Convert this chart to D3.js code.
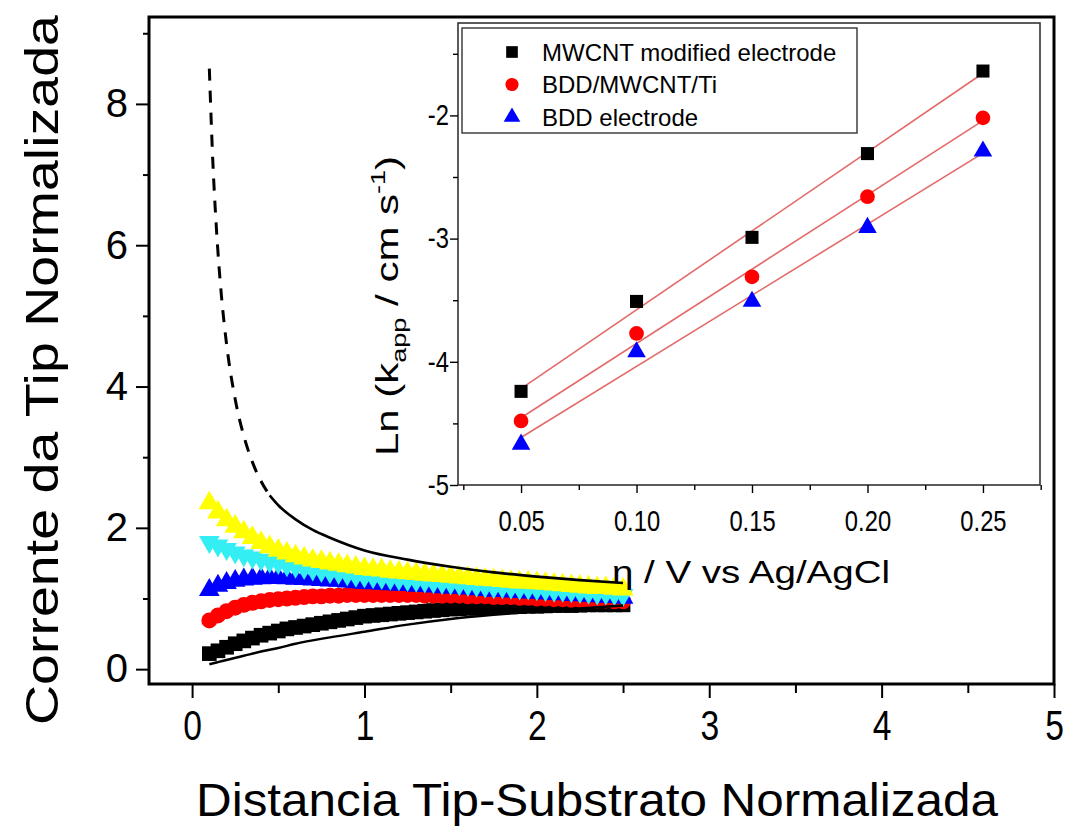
<!DOCTYPE html>
<html>
<head>
<meta charset="utf-8">
<script src="https://cdn.jsdelivr.net/npm/d3@7"></script>
<style>
  body { margin: 0; background: #fff; }
  svg { display: block; }
  text { font-family: "Liberation Sans", Arial, sans-serif; fill: #000; }
</style>
</head>
<body>
<svg id="chart" width="1069" height="827"></svg>
<script>
// ---- Approach curves: normalized tip current vs normalized tip-substrate distance ----
const distance = [0.10,0.15,0.20,0.25,0.30,0.35,0.40,0.45,0.50,0.55,0.60,0.65,0.70,0.75,0.80,0.85,0.90,0.95,1.00,1.05,1.10,1.15,1.20,1.25,1.30,1.35,1.40,1.45,1.50,1.55,1.60,1.65,1.70,1.75,1.80,1.85,1.90,1.95,2.00,2.05,2.10,2.15,2.20,2.25,2.30,2.35,2.40,2.45,2.50];

const currentBlack  = [0.22,0.26,0.31,0.36,0.40,0.44,0.48,0.51,0.54,0.57,0.59,0.61,0.63,0.65,0.67,0.69,0.71,0.73,0.75,0.76,0.77,0.78,0.79,0.80,0.81,0.82,0.83,0.84,0.85,0.855,0.86,0.865,0.87,0.875,0.88,0.88,0.885,0.89,0.89,0.895,0.90,0.90,0.90,0.905,0.91,0.91,0.91,0.91,0.91];
const currentRed    = [0.69,0.76,0.82,0.87,0.91,0.94,0.96,0.98,0.99,1.00,1.01,1.02,1.03,1.03,1.04,1.04,1.05,1.05,1.05,1.05,1.05,1.05,1.05,1.05,1.05,1.04,1.04,1.04,1.04,1.04,1.03,1.03,1.03,1.02,1.02,1.02,1.01,1.01,1.00,1.00,0.99,0.99,0.98,0.98,0.98,0.97,0.97,0.96,0.96];
const currentBlue   = [1.12,1.18,1.22,1.25,1.27,1.28,1.285,1.29,1.29,1.285,1.28,1.275,1.27,1.26,1.255,1.25,1.24,1.23,1.22,1.215,1.21,1.20,1.195,1.19,1.18,1.175,1.17,1.16,1.155,1.15,1.14,1.13,1.12,1.11,1.105,1.10,1.09,1.085,1.08,1.07,1.065,1.06,1.05,1.045,1.04,1.03,1.025,1.02,1.01];
const currentCyan   = [1.80,1.75,1.70,1.65,1.61,1.58,1.55,1.52,1.50,1.47,1.45,1.43,1.41,1.39,1.37,1.36,1.34,1.32,1.31,1.30,1.29,1.28,1.27,1.26,1.25,1.24,1.23,1.22,1.21,1.20,1.19,1.18,1.17,1.16,1.16,1.15,1.14,1.14,1.13,1.12,1.11,1.11,1.10,1.09,1.08,1.07,1.07,1.06,1.05];
const currentYellow = [2.35,2.22,2.11,2.02,1.94,1.86,1.79,1.73,1.68,1.64,1.60,1.57,1.54,1.52,1.50,1.48,1.46,1.44,1.42,1.41,1.40,1.38,1.37,1.36,1.35,1.34,1.33,1.32,1.31,1.30,1.29,1.28,1.27,1.26,1.25,1.24,1.23,1.23,1.22,1.21,1.20,1.19,1.18,1.17,1.16,1.15,1.15,1.14,1.13];

// Limiting curves: conductive (positive feedback) and insulating (negative feedback)
const conductorL = [0.10,0.12,0.14,0.17,0.20,0.25,0.30,0.35,0.40,0.45,0.50,0.60,0.70,0.80,1.00,1.25,1.50,1.75,2.00,2.25,2.50];
const conductorI = [8.50,7.20,6.28,5.29,4.60,3.82,3.30,2.93,2.66,2.46,2.32,2.12,1.97,1.86,1.68,1.55,1.45,1.37,1.31,1.26,1.22];
const insulatorL = [0.10,0.15,0.20,0.30,0.40,0.50,0.60,0.80,1.00,1.25,1.50,1.75,2.00,2.25,2.50];
const insulatorI = [0.07,0.10,0.13,0.19,0.25,0.30,0.36,0.45,0.53,0.63,0.71,0.77,0.82,0.86,0.90];
const dashedUntil = 0.45;

const mainXTicks = [0, 1, 2, 3, 4, 5];
const mainXMinor = [0.5, 1.5, 2.5, 3.5, 4.5];
const mainYTicks = [0, 2, 4, 6, 8];
const mainYMinor = [1, 3, 5, 7, 9];

// ---- Inset: ln(k_app) vs overpotential ----
const overpotential = [0.05, 0.10, 0.15, 0.20, 0.25];
const lnkMWCNT      = [-4.24, -3.51, -2.99, -2.31, -1.64];
const lnkBDDMWCNTTi = [-4.48, -3.77, -3.31, -2.66, -2.02];
const lnkBDD        = [-4.67, -3.92, -3.51, -2.91, -2.29];
const insetLegend   = ["MWCNT modified electrode", "BDD/MWCNT/Ti", "BDD electrode"];
const insetXTicks = [0.05, 0.10, 0.15, 0.20, 0.25];
const insetXMinor = [0.025, 0.075, 0.125, 0.175, 0.225, 0.275];
const insetYTicks = [-5, -4, -3, -2];
const insetYMinor = [-4.5, -3.5, -2.5, -1.5];

const svg = d3.select("#chart");
svg.append("rect").attr("width", 1069).attr("height", 827).attr("fill", "#fff");

// ================= main plot =================
const x = d3.scaleLinear().domain([-0.25, 5]).range([149, 1054]);
const y = d3.scaleLinear().domain([-0.21, 9.23]).range([684, 17]);

function styleTicks(g, w) {
  g.select(".domain").remove();
  g.selectAll(".tick line").attr("stroke", "#000").attr("stroke-width", w);
}

const gxMinor = svg.append("g").attr("transform", `translate(0,${y.range()[0]})`)
  .call(d3.axisBottom(x).tickValues(mainXMinor).tickSize(9).tickFormat(""));
styleTicks(gxMinor, 2);
const gx = svg.append("g").attr("transform", `translate(0,${y.range()[0]})`)
  .call(d3.axisBottom(x).tickValues(mainXTicks).tickSize(14).tickPadding(12).tickFormat(d => String(d)));
styleTicks(gx, 2);
gx.selectAll(".tick text").attr("font-size", 42).attr("transform", "scale(0.8,1)")
  .style("font-family", '"Liberation Sans", Arial, sans-serif');

const gyMinor = svg.append("g").attr("transform", `translate(${x.range()[0]},0)`)
  .call(d3.axisLeft(y).tickValues(mainYMinor).tickSize(6).tickFormat(""));
styleTicks(gyMinor, 2);
const gy = svg.append("g").attr("transform", `translate(${x.range()[0]},0)`)
  .call(d3.axisLeft(y).tickValues(mainYTicks).tickSize(13).tickPadding(8).tickFormat(d => String(d)));
styleTicks(gy, 2);
gy.selectAll(".tick text").attr("font-size", 40)
  .style("font-family", '"Liberation Sans", Arial, sans-serif');

// axis titles
svg.append("text")
  .attr("x", 196).attr("y", 816)
  .attr("font-size", 46)
  .attr("textLength", 802).attr("lengthAdjust", "spacingAndGlyphs")
  .text("Distancia Tip-Substrato Normalizada");
svg.append("text")
  .attr("transform", "translate(58,725) rotate(-90)")
  .attr("font-size", 46)
  .attr("textLength", 710).attr("lengthAdjust", "spacingAndGlyphs")
  .text("Corrente da Tip Normalizada");

// experimental approach curves (dense markers)
const seriesMain = [
  { values: currentBlack,  color: "#000000", type: d3.symbolSquare,   size: 215, rot: 0 },
  { values: currentRed,    color: "#ff0000", type: d3.symbolCircle,   size: 200, rot: 0 },
  { values: currentBlue,   color: "#0000ff", type: d3.symbolTriangle, size: 185, rot: 0 },
  { values: currentCyan,   color: "#33eef2", type: d3.symbolTriangle, size: 185, rot: 180 },
  { values: currentYellow, color: "#ffff00", type: d3.symbolTriangle, size: 200, rot: 0 }
];
seriesMain.forEach(s => {
  const sym = d3.symbol().type(s.type).size(s.size);
  svg.append("g").selectAll("path")
    .data(distance.map((d, i) => [d, s.values[i]]))
    .join("path")
    .attr("d", sym)
    .attr("transform", d => `translate(${x(d[0])},${y(d[1])}) rotate(${s.rot})`)
    .attr("fill", s.color);
});

// limiting curves on top of the markers
const curveLine = d3.line().x(d => x(d[0])).y(d => y(d[1])).curve(d3.curveMonotoneX);
const conductor = conductorL.map((l, i) => [l, conductorI[i]]);
const insulator = insulatorL.map((l, i) => [l, insulatorI[i]]);
svg.append("path").attr("d", curveLine(conductor.filter(d => d[0] <= dashedUntil)))
  .attr("fill", "none").attr("stroke", "#000").attr("stroke-width", 3)
  .attr("stroke-dasharray", "12,10");
svg.append("path").attr("d", curveLine(conductor.filter(d => d[0] >= dashedUntil)))
  .attr("fill", "none").attr("stroke", "#000").attr("stroke-width", 2.6);
svg.append("path").attr("d", curveLine(insulator))
  .attr("fill", "none").attr("stroke", "#000").attr("stroke-width", 2.4);

// main frame
svg.append("rect")
  .attr("x", x.range()[0]).attr("y", y.range()[1])
  .attr("width", x.range()[1] - x.range()[0]).attr("height", y.range()[0] - y.range()[1])
  .attr("fill", "none").attr("stroke", "#000").attr("stroke-width", 3);

// ================= inset =================
const ix = d3.scaleLinear().domain([0.0227, 0.2747]).range([458, 1040]);
const iy = d3.scaleLinear().domain([-5.0, -1.25]).range([485, 23]);

svg.append("rect")
  .attr("x", ix.range()[0]).attr("y", iy.range()[1])
  .attr("width", ix.range()[1] - ix.range()[0]).attr("height", iy.range()[0] - iy.range()[1])
  .attr("fill", "#fff").attr("stroke", "#333").attr("stroke-width", 1.6);

const igxMinor = svg.append("g").attr("transform", `translate(0,${iy.range()[0]})`)
  .call(d3.axisBottom(ix).tickValues(insetXMinor).tickSize(5).tickFormat(""));
styleTicks(igxMinor, 1.4);
const igx = svg.append("g").attr("transform", `translate(0,${iy.range()[0]})`)
  .call(d3.axisBottom(ix).tickValues(insetXTicks).tickSize(8).tickPadding(17).tickFormat(d3.format(".2f")));
styleTicks(igx, 1.4);
igx.selectAll(".tick text").attr("font-size", 29).attr("transform", "scale(0.82,1)")
  .style("font-family", '"Liberation Sans", Arial, sans-serif');

const igyMinor = svg.append("g").attr("transform", `translate(${ix.range()[0]},0)`)
  .call(d3.axisLeft(iy).tickValues(insetYMinor).tickSize(5).tickFormat(""));
styleTicks(igyMinor, 1.4);
const igy = svg.append("g").attr("transform", `translate(${ix.range()[0]},0)`)
  .call(d3.axisLeft(iy).tickValues(insetYTicks).tickSize(8).tickPadding(3).tickFormat(d => String(d)));
styleTicks(igy, 1.4);
igy.selectAll(".tick text").attr("font-size", 29).attr("transform", "scale(0.82,1)")
  .style("font-family", '"Liberation Sans", Arial, sans-serif');

// inset axis titles
svg.append("text")
  .attr("x", 612).attr("y", 583)
  .attr("font-size", 31)
  .attr("textLength", 278).attr("lengthAdjust", "spacingAndGlyphs")
  .text("η / V vs Ag/AgCl");
const ytitle = svg.append("text")
  .attr("transform", "translate(398,306) rotate(-90)")
  .attr("font-size", 31).attr("text-anchor", "middle")
  .attr("textLength", 300).attr("lengthAdjust", "spacingAndGlyphs");
ytitle.append("tspan").text("Ln (k");
ytitle.append("tspan").attr("font-size", 20).attr("dy", 8).text("app");
ytitle.append("tspan").attr("dy", -8).text(" / cm s");
ytitle.append("tspan").attr("font-size", 20).attr("dy", -13).text("-1");
ytitle.append("tspan").attr("dy", 13).text(")");

// fit lines + points
const insetSeries = [
  { values: lnkMWCNT,      color: "#000000", type: d3.symbolSquare,   size: 170 },
  { values: lnkBDDMWCNTTi, color: "#ff0000", type: d3.symbolCircle,   size: 170 },
  { values: lnkBDD,        color: "#0000ff", type: d3.symbolTriangle, size: 150 }
];
insetSeries.forEach(s => {
  const n = overpotential.length;
  const mx = d3.mean(overpotential), my = d3.mean(s.values);
  let sxy = 0, sxx = 0;
  overpotential.forEach((v, i) => { sxy += (v - mx) * (s.values[i] - my); sxx += (v - mx) * (v - mx); });
  const slope = sxy / sxx, icpt = my - slope * mx;
  const x0 = overpotential[0], x1 = overpotential[n - 1];
  svg.append("line")
    .attr("x1", ix(x0)).attr("y1", iy(icpt + slope * x0))
    .attr("x2", ix(x1)).attr("y2", iy(icpt + slope * x1))
    .attr("stroke", "#e46a6a").attr("stroke-width", 1.6);
});
insetSeries.forEach(s => {
  const sym = d3.symbol().type(s.type).size(s.size);
  svg.append("g").selectAll("path")
    .data(overpotential.map((v, i) => [v, s.values[i]]))
    .join("path")
    .attr("d", sym)
    .attr("transform", d => `translate(${ix(d[0])},${iy(d[1])})`)
    .attr("fill", s.color);
});

// legend
const lg = svg.append("g");
lg.append("rect").attr("x", 462).attr("y", 28).attr("width", 395).attr("height", 105)
  .attr("fill", "#fff").attr("stroke", "#333").attr("stroke-width", 1.4);
insetSeries.forEach((s, i) => {
  const yy = 52 + i * 32.5;
  lg.append("path")
    .attr("d", d3.symbol().type(s.type).size(s.size * 0.8))
    .attr("transform", `translate(512,${yy})`)
    .attr("fill", s.color);
  lg.append("text").attr("x", 542).attr("y", yy).attr("dy", "0.36em")
    .attr("font-size", 24).text(insetLegend[i]);
});
</script>
</body>
</html>
